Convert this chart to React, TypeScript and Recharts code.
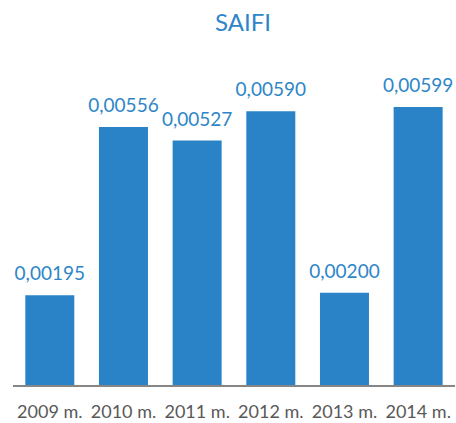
import { BarChart, Bar, XAxis, YAxis, LabelList } from "recharts";

const years = ["2009 m.", "2010 m.", "2011 m.", "2012 m.", "2013 m.", "2014 m."];
const saifi = [0.00195, 0.00556, 0.00527, 0.0059, 0.002, 0.00599];

const data = years.map((year, i) => ({ year, value: saifi[i] }));

const BLUE = "#2A83C6";
const TEXT_BLUE = "#2E86C8";
const FONT = "Lato, 'Open Sans', sans-serif";

export default function App() {
  return (
    <div style={{ position: "absolute", left: 0, top: 0, width: 456, height: 423, background: "#fff" }}>
      <div
        style={{
          position: "absolute",
          left: 0,
          top: 7,
          width: 486,
          textAlign: "center",
          fontFamily: FONT,
          fontSize: 24,
          color: TEXT_BLUE,
          lineHeight: "30px",
        }}
      >
        SAIFI
      </div>
      <BarChart
        width={456}
        height={423}
        data={data}
        margin={{ top: 60, right: 1, left: 13, bottom: 0 }}
        barCategoryGap="16.7%"
      >
        <XAxis
          dataKey="year"
          height={37}
          tickLine={false}
          axisLine={{ stroke: "#868686", strokeWidth: 2 }}
          tickMargin={13}
          interval={0}
          tick={{ fontSize: 18, fill: "#595959", fontFamily: FONT }}
        />
        <YAxis hide domain={[0, 0.007]} />
        <Bar dataKey="value" fill={BLUE} isAnimationActive={false}>
          <LabelList
            dataKey="value"
            position="top"
            offset={15}
            fill={TEXT_BLUE}
            fontSize={19}
            fontFamily={FONT}
            formatter={(v: number) => v.toFixed(5).replace(".", ",")}
          />
        </Bar>
      </BarChart>
    </div>
  );
}
